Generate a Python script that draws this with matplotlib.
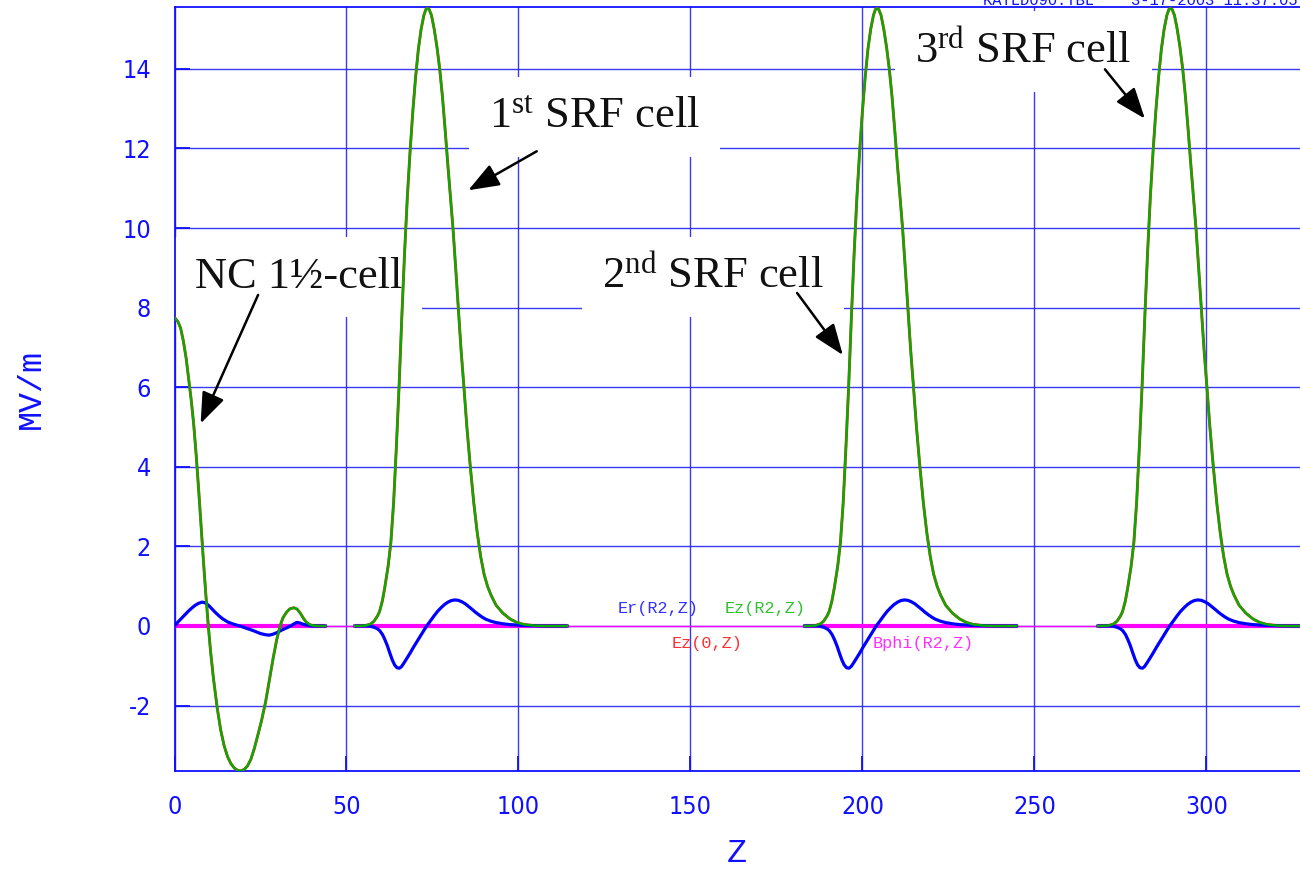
"""Superfish-style field plot: NC 1.5-cell gun followed by three SRF cells"""

import matplotlib
matplotlib.use('Agg')
import matplotlib.pyplot as plt

# ---- data (z, MV/m) ----
# NC 1 1/2 cell
nc_z = [0, 1.0, 1.8, 2.6, 3.4, 4.2, 4.9, 5.6, 6.3, 7.0, 7.7, 8.4, 9.1, 9.83, 10.5,
        11.3, 12.4, 13.4, 14.4, 15.4, 16.4, 17.4, 18.4, 19.2, 20.2, 21.2, 22.2,
        23.2, 24.2, 25.3, 26.5, 27.6, 28.7, 29.7, 30.7, 31.5, 32.5, 33.5, 34.7,
        35.7, 36.6, 37.5, 38.4, 39.4, 40.5, 42.0, 43.8]
nc_ez = [7.75, 7.65, 7.48, 7.15, 6.72, 6.15, 5.65, 5.05, 4.3, 3.45, 2.55, 1.65, 0.8,
         0.0, -0.65, -1.3, -2.05, -2.6, -3.0, -3.28, -3.46, -3.57, -3.63, -3.64,
         -3.61, -3.52, -3.35, -3.08, -2.75, -2.38, -1.9, -1.35, -0.8, -0.35, 0.0,
         0.2, 0.34, 0.43, 0.46, 0.42, 0.32, 0.19, 0.09, 0.03, 0.008, 0.0, 0.0]
nc_er_z = [0, 1, 2, 3, 4, 5, 6, 7, 8, 9, 10, 11, 12, 13, 14, 15.5, 17, 19, 21, 23,
           25, 26.5, 27.5, 28.5, 29.7, 31, 32.5, 33.5, 34.5, 35.5, 36.3, 37.2, 38.5,
           40, 43.8]
nc_er = [0, 0.1, 0.19, 0.28, 0.37, 0.45, 0.52, 0.57, 0.6, 0.58, 0.51, 0.42, 0.33,
         0.25, 0.18, 0.1, 0.05, 0.0, -0.06, -0.12, -0.19, -0.22, -0.23, -0.21, -0.17,
         -0.11, -0.05, -0.01, 0.04, 0.09, 0.08, 0.05, 0.02, 0.0, 0.0]

# one SRF cell, z measured from the Ez peak (all three cells look the same)
srf_dz = [-21.0, -18.0, -16.5, -15.5, -14.5, -13.9, -13.1, -12.4, -11.4, -10.6, -9.8,
          -9.0, -8.2, -7.4, -6.6, -5.8, -5.0, -4.2, -3.4, -2.6, -1.8, -1.0, -0.4,
          0.0, 0.5, 1.2, 2.0, 2.8, 3.6, 4.4, 5.2, 6.0, 6.8, 7.5, 8.2, 9.0, 9.8, 10.6,
          11.5, 12.5, 13.5, 14.5, 15.5, 16.5, 17.5, 18.5, 20.0, 22.0, 24.0, 26.0,
          28.0, 31.0, 34.0, 40.6]
srf_ez = [0, 0.01, 0.05, 0.12, 0.25, 0.36, 0.62, 0.95, 1.5, 2.1, 3.1, 4.5, 6.05, 7.8,
          9.4, 10.8, 11.95, 12.95, 13.8, 14.5, 15.0, 15.35, 15.5, 15.52, 15.5, 15.35,
          15.0, 14.55, 14.0, 13.3, 12.45, 11.55, 10.7, 9.95, 9.05, 8.0, 6.95, 6.05,
          5.0, 4.0, 3.1, 2.35, 1.75, 1.3, 1.0, 0.78, 0.52, 0.32, 0.18, 0.09, 0.04,
          0.01, 0.0, 0.0]
srf_er_dz = [-21.0, -17.0, -15.5, -14.5, -13.8, -13.0, -12.3, -11.6, -10.9, -10.2,
             -9.5, -8.8, -8.1, -7.5, -6.8, -6.0, -5.0, -4.0, -3.0, -2.0, -1.0, -0.2,
             1.0, 2.0, 3.0, 4.0, 5.0, 6.0, 7.0, 8.0, 9.0, 10.0, 11.0, 12.0, 13.0,
             14.0, 15.0, 16.0, 17.0, 18.5, 20.0, 22.0, 24.0, 27.0, 31.0, 34.0, 40.6]
srf_er = [0, 0, -0.03, -0.07, -0.12, -0.22, -0.35, -0.5, -0.68, -0.85, -0.98, -1.05,
          -1.06, -1.02, -0.93, -0.82, -0.68, -0.53, -0.39, -0.25, -0.11, 0.0, 0.14,
          0.26, 0.37, 0.46, 0.54, 0.6, 0.64, 0.655, 0.645, 0.61, 0.56, 0.49, 0.42,
          0.345, 0.28, 0.22, 0.17, 0.12, 0.085, 0.055, 0.035, 0.018, 0.005, 0.0, 0.0]
srf_peaks = [73.5, 204.2, 289.5]

nc_span = (0, 43.8)
srf_span = (-21.0, 40.6)

labels = ['1$^{\\mathrm{st}}$ SRF cell', '2$^{\\mathrm{nd}}$ SRF cell',
          '3$^{\\mathrm{rd}}$ SRF cell', 'NC 1\u00bd-cell']
label_pos = [(122.2, 12.51), (156.5, 8.49), (246.8, 14.15), (36.0, 8.49)]
arrow_tail = [(105.3, 11.93), (181.0, 8.37), (270.5, 13.99), (24.3, 8.32)]
arrow_tip = [(85.4, 10.95), (194.3, 6.81), (282.1, 12.75), (7.6, 5.09)]

BLUE = '#1010ff'
GRID = '#2424f4'

plt.rcParams['mathtext.fontset'] = 'custom'
plt.rcParams['mathtext.rm'] = 'Liberation Serif'
plt.rcParams['mathtext.it'] = 'Liberation Serif:italic'
plt.rcParams['axes.unicode_minus'] = False

fig = plt.figure(figsize=(13, 8.72), dpi=100)
ax = fig.add_axes([174.5 / 1300, 101 / 872, 1 - 174.5 / 1300, 764 / 872])
ax.set_xlim(0, 327.2)
ax.set_ylim(-3.644, 15.556)

ax.set_xticks(range(0, 301, 50))
ax.set_yticks(range(-2, 15, 2))
ax.grid(True, color=GRID, lw=1.0, alpha=0.9, zorder=0.5)
ax.set_axisbelow(True)
ax.tick_params(direction='in', length=11, width=1.3, color=BLUE, labelcolor=BLUE,
               labelsize=18, pad=17)
for lab in ax.get_xticklabels() + ax.get_yticklabels():
    lab.set_family('DejaVu Sans')
    lab.set_stretch('condensed')
for side in ['left', 'bottom', 'top']:
    ax.spines[side].set_color(BLUE)
    ax.spines[side].set_linewidth(1.3)
ax.spines['right'].set_visible(False)

ax.set_xlabel('Z', family='Liberation Mono', fontsize=24, color=BLUE, labelpad=14)
ax.set_ylabel('MV/m', family='Liberation Mono', fontsize=24, color=BLUE, labelpad=54)

# Bphi is zero everywhere: thin line over the whole axis, thick where fields exist
ax.axhline(0, color='#ff00ff', lw=1.0, zorder=3)
spans = [nc_span] + [(p + srf_span[0], p + srf_span[1]) for p in srf_peaks]
for a, b in spans:
    ax.plot([a, b], [0, 0], color='#ff00ff', lw=3.0, zorder=4, solid_capstyle='butt')

# NC cell
ax.plot(nc_z, nc_ez, color='#ff2020', lw=2.1, zorder=5)
ax.plot(nc_z, nc_ez, color='#00b000', lw=1.7, zorder=6)
ax.plot(nc_er_z, nc_er, color='#0000ff', lw=2.3, zorder=5)

# SRF cells
for p in srf_peaks:
    z = [p + d for d in srf_dz]
    zr = [p + d for d in srf_er_dz]
    ax.plot(z, srf_ez, color='#ff2020', lw=2.1, zorder=5)
    ax.plot(z, srf_ez, color='#00b000', lw=1.7, zorder=6)
    ax.plot(zr, srf_er, color='#0000ff', lw=2.3, zorder=5)

# curve labels
mono = 'Liberation Mono'
ax.text(140.6, 0.43, 'Er(R2,Z)', color='#3030ff', family=mono, fontsize=12.2,
        ha='center', va='center', zorder=7)
ax.text(171.7, 0.43, 'Ez(R2,Z)', color='#30c030', family=mono, fontsize=12.2,
        ha='center', va='center', zorder=7)
ax.text(154.8, -0.45, 'Ez(0,Z)', color='#ff3030', family=mono, fontsize=12.2,
        ha='center', va='center', zorder=7)
ax.text(217.6, -0.45, 'Bphi(R2,Z)', color='#ff30ff', family=mono, fontsize=12.2,
        ha='center', va='center', zorder=7)

# cell annotations
for txt, pos, tail, tip in zip(labels, label_pos, arrow_tail, arrow_tip):
    ax.text(pos[0], pos[1], txt, family='Liberation Serif', fontsize=32,
            ha='center', va='baseline', color='#111111', zorder=2,
            bbox=dict(boxstyle='square,pad=0.45', fc='white', ec='none'))
    ax.annotate('', xy=tip, xytext=tail, zorder=7,
                arrowprops=dict(arrowstyle='-|>,head_length=0.95,head_width=0.36',
                                color='black', lw=1.8, mutation_scale=20,
                                shrinkA=0, shrinkB=0))

# header of the original plot file, mostly cut off by the top of the page
fig.text(983 / 1300, 1 - 5 / 872, 'KATLD090.TBL    3-17-2003 11:37:05',
         family=mono, fontsize=11.2, color=BLUE, va='baseline', ha='left')

fig.savefig('out.png', dpi=100)
